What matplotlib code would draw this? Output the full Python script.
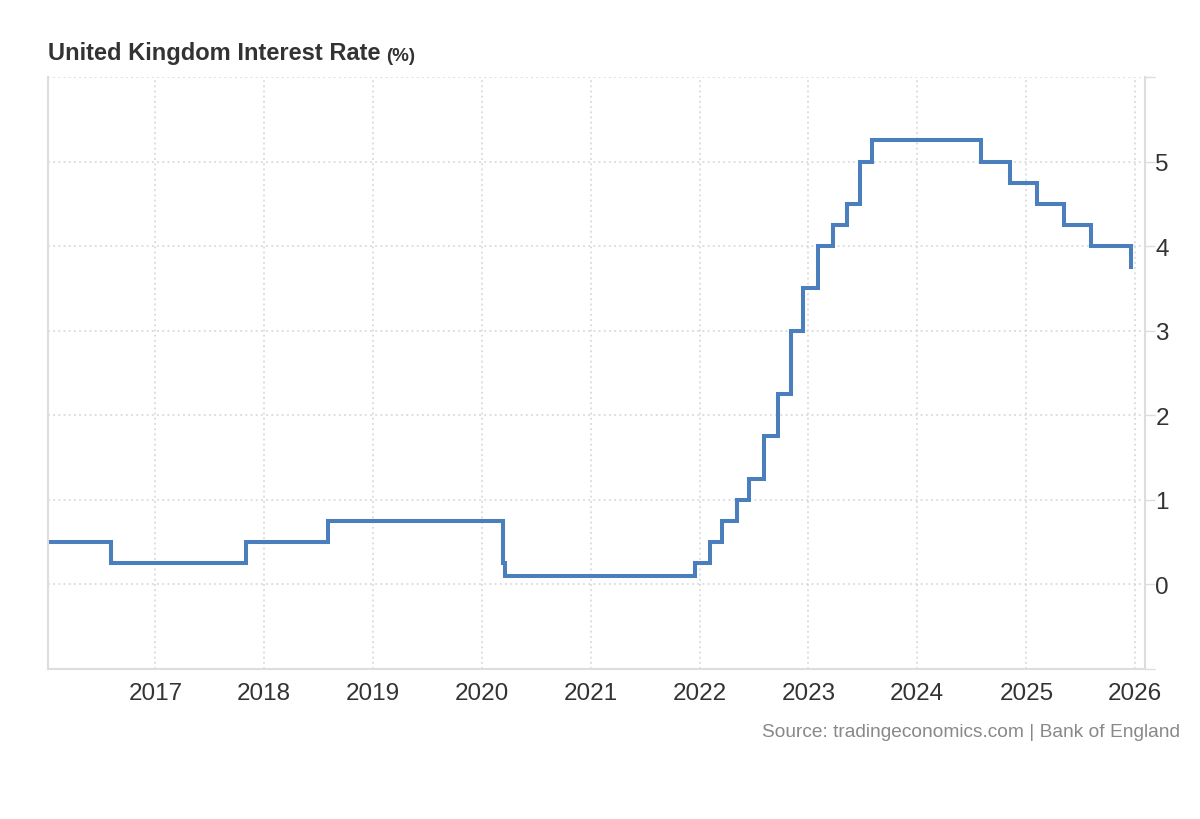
import numpy as np
import matplotlib
matplotlib.use('Agg')
import matplotlib.pyplot as plt
import matplotlib.dates as mdates

plt.rcParams['font.family'] = ['Liberation Sans', 'DejaVu Sans']

# Bank Rate decisions (date of change, new rate %)
change_dates = ['2016-01-01', '2016-08-04', '2017-11-02', '2018-08-02',
                '2020-03-11', '2020-03-19', '2021-12-16', '2022-02-03',
                '2022-03-17', '2022-05-05', '2022-06-16', '2022-08-04',
                '2022-09-22', '2022-11-03', '2022-12-15', '2023-02-02',
                '2023-03-23', '2023-05-11', '2023-06-22', '2023-08-03',
                '2024-08-01', '2024-11-07', '2025-02-06', '2025-05-08',
                '2025-08-07', '2025-12-18', '2025-12-19']
rates = [0.5, 0.25, 0.5, 0.75,
         0.25, 0.1, 0.25, 0.5,
         0.75, 1.0, 1.25, 1.75,
         2.25, 3.0, 3.5, 4.0,
         4.25, 4.5, 5.0, 5.25,
         5.0, 4.75, 4.5, 4.25,
         4.0, 3.75, 3.75]
year_ticks = list(range(2017, 2027))
y_ticks = [0, 1, 2, 3, 4, 5]

x = np.array(change_dates, dtype='datetime64[D]')
y = np.array(rates)

fig = plt.figure(figsize=(12, 8.2), dpi=100)
ax = fig.add_axes([0.04, 0.1829, 0.9142, 0.722])

ax.plot(x, y, drawstyle='steps-post', color='#4a7ebd', lw=2.9, solid_joinstyle='miter')

ax.set_xlim(np.datetime64('2016-01-07'), np.datetime64('2026-02-03'))
ax.set_ylim(-1, 6)

ax.set_xticks([np.datetime64('%d-01-01' % yr) for yr in year_ticks])
ax.xaxis.set_major_formatter(mdates.DateFormatter('%Y'))
ax.set_yticks([-1] + y_ticks + [6])
ax.set_yticklabels([''] + [str(v) for v in y_ticks] + [''])

ax.yaxis.tick_right()
ax.tick_params(axis='x', length=0, pad=9.5, labelsize=17.5, labelcolor='#333333')
ax.tick_params(axis='y', length=7.5, width=1, color='#dddddd', pad=0,
               labelsize=17.5, labelcolor='#333333')

ax.grid(True, linestyle=(0, (1.2, 2.2)), color='#d3d3d3', lw=1.1)
ax.set_axisbelow(True)

for side in ['left', 'bottom', 'right']:
    ax.spines[side].set_color('#dddddd')
    ax.spines[side].set_linewidth(1.5)
ax.spines['top'].set_visible(False)

title = fig.text(0.04, 0.927, 'United Kingdom Interest Rate', fontsize=17, fontweight='bold',
                 color='#333333', ha='left', va='baseline')
ax.annotate('(%)', xy=(1, 0), xycoords=title, xytext=(4, 2.6), textcoords='offset points',
            fontsize=13.5, fontweight='bold', color='#333333', ha='left', va='baseline')
fig.text(0.983, 0.101, 'Source: tradingeconomics.com | Bank of England', fontsize=13.8,
         color='#888888', ha='right', va='baseline')

fig.savefig('out.png', dpi=100)
